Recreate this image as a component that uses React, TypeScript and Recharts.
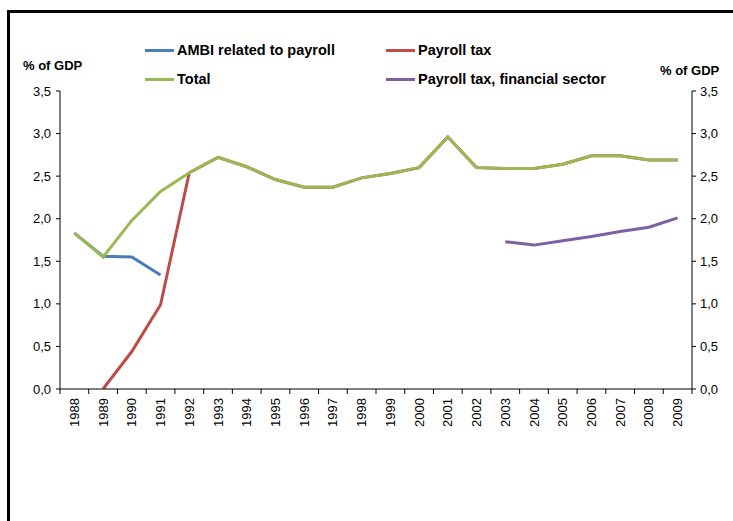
import React from 'react';
import { LineChart, Line, XAxis, YAxis } from 'recharts';

const years = ['1988','1989','1990','1991','1992','1993','1994','1995','1996','1997','1998','1999','2000','2001','2002','2003','2004','2005','2006','2007','2008','2009'];
const ambiValues: (number | null)[] = [1.83, 1.56, 1.55, 1.34, null, null, null, null, null, null, null, null, null, null, null, null, null, null, null, null, null, null];
const payrollValues: (number | null)[] = [null, 0.0, 0.44, 0.99, 2.54, 2.72, 2.61, 2.46, 2.37, 2.37, 2.48, 2.53, 2.60, 2.96, 2.60, 2.59, 2.59, 2.64, 2.74, 2.74, 2.69, 2.69];
const totalValues: (number | null)[] = [1.83, 1.55, 1.98, 2.32, 2.54, 2.72, 2.61, 2.46, 2.37, 2.37, 2.48, 2.53, 2.60, 2.96, 2.60, 2.59, 2.59, 2.64, 2.74, 2.74, 2.69, 2.69];
const financialValues: (number | null)[] = [null, null, null, null, null, null, null, null, null, null, null, null, null, null, null, 1.73, 1.69, 1.74, 1.79, 1.85, 1.90, 2.01];
const yTicks = [0, 0.5, 1.0, 1.5, 2.0, 2.5, 3.0, 3.5];

const seriesNames = {
  ambi: 'AMBI related to payroll',
  payroll: 'Payroll tax',
  total: 'Total',
  financial: 'Payroll tax, financial sector',
};
const colors = {
  ambi: '#4a7ebb',
  payroll: '#be4b48',
  total: '#98b954',
  financial: '#7d60a0',
};

const data = years.map((y, i) => ({
  year: y,
  ambi: ambiValues[i],
  payroll: payrollValues[i],
  total: totalValues[i],
  financial: financialValues[i],
}));

const W = 733;
const H = 521;
const PLOT_TOP = 91;
const PLOT_BOTTOM = 389;
const LEFT_W = 60;
const RIGHT_W = 41;
const PLOT_W = W - LEFT_W - RIGHT_W;
const HALF_BAND = PLOT_W / years.length / 2;
const FONT = '"Liberation Sans", Arial, sans-serif';

const fmt = (v: number) => v.toFixed(1).replace('.', ',');

const XTick = (props: any) => {
  const { x, payload, index } = props;
  return (
    <g>
      <line x1={x - HALF_BAND} x2={x - HALF_BAND} y1={PLOT_BOTTOM} y2={PLOT_BOTTOM + 5} stroke="#000" strokeWidth={1} />
      {index === years.length - 1 && (
        <line x1={x + HALF_BAND} x2={x + HALF_BAND} y1={PLOT_BOTTOM} y2={PLOT_BOTTOM + 5} stroke="#000" strokeWidth={1} />
      )}
      <text
        x={0}
        y={0}
        transform={`translate(${x + 4.5},${PLOT_BOTTOM + 9}) rotate(-90)`}
        textAnchor="end"
        fontSize={13}
        fontFamily={FONT}
        fill="#000"
      >
        {payload.value}
      </text>
    </g>
  );
};

const legendRows = [
  [{ key: 'ambi', x: 145 }, { key: 'payroll', x: 386 }],
  [{ key: 'total', x: 145 }, { key: 'financial', x: 386 }],
];
const legendRowY = [50, 79];

export default function App() {
  return (
    <div style={{ position: 'absolute', left: 0, top: 0, width: W, height: H, background: '#fff', fontFamily: FONT, overflow: 'hidden' }}>
      <div style={{ position: 'absolute', left: 0, top: 0 }}>
        <LineChart width={W} height={H} data={data} margin={{ top: PLOT_TOP, right: 0, bottom: 0, left: 0 }}>
          <XAxis
            dataKey="year"
            height={H - PLOT_BOTTOM}
            axisLine={{ stroke: '#000', strokeWidth: 1 }}
            tickLine={false}
            tick={<XTick />}
            interval={0}
            padding={{ left: HALF_BAND, right: HALF_BAND }}
          />
          <YAxis
            yAxisId="left"
            width={LEFT_W}
            domain={[0, 3.5]}
            ticks={yTicks}
            tickFormatter={fmt}
            axisLine={{ stroke: '#000', strokeWidth: 1 }}
            tickLine={{ stroke: '#000' }}
            tickSize={4}
            tickMargin={5}
            tick={{ fontSize: 13, fill: '#000', fontFamily: FONT }}
            allowDataOverflow
          />
          <YAxis
            yAxisId="right"
            orientation="right"
            width={RIGHT_W}
            domain={[0, 3.5]}
            ticks={yTicks}
            tickFormatter={fmt}
            axisLine={{ stroke: '#000', strokeWidth: 1 }}
            tickLine={{ stroke: '#000' }}
            tickSize={4}
            tickMargin={4}
            tick={{ fontSize: 13, fill: '#000', fontFamily: FONT, textAnchor: 'start' }}
            allowDataOverflow
          />
          <Line yAxisId="left" dataKey="payroll" name={seriesNames.payroll} stroke={colors.payroll} strokeWidth={3} dot={false} isAnimationActive={false} connectNulls={false} />
          <Line yAxisId="left" dataKey="ambi" name={seriesNames.ambi} stroke={colors.ambi} strokeWidth={3} dot={false} isAnimationActive={false} connectNulls={false} />
          <Line yAxisId="left" dataKey="total" name={seriesNames.total} stroke={colors.total} strokeWidth={3} dot={false} isAnimationActive={false} connectNulls={false} />
          <Line yAxisId="left" dataKey="financial" name={seriesNames.financial} stroke={colors.financial} strokeWidth={3} dot={false} isAnimationActive={false} connectNulls={false} />
        </LineChart>
      </div>
      {/* frame */}
      <div style={{ position: 'absolute', left: 7, top: 10, width: W, height: H, borderLeft: '3px solid #000', borderTop: '3px solid #000' }} />
      {/* axis titles */}
      <div style={{ position: 'absolute', left: 23, top: 58, fontSize: 13, fontWeight: 'bold', color: '#000', whiteSpace: 'nowrap' }}>% of GDP</div>
      <div style={{ position: 'absolute', left: 660, top: 63, fontSize: 13, fontWeight: 'bold', color: '#000', whiteSpace: 'nowrap' }}>% of GDP</div>
      {/* legend */}
      {legendRows.map((row, ri) =>
        row.map((item) => (
          <div key={item.key} style={{ position: 'absolute', left: item.x, top: legendRowY[ri] - 9, height: 18, display: 'flex', alignItems: 'center', whiteSpace: 'nowrap' }}>
            <div style={{ width: 29, height: 3, background: (colors as any)[item.key], marginRight: 3 }} />
            <span style={{ fontSize: 14.5, fontWeight: 'bold', color: '#000' }}>{(seriesNames as any)[item.key]}</span>
          </div>
        ))
      )}
    </div>
  );
}
